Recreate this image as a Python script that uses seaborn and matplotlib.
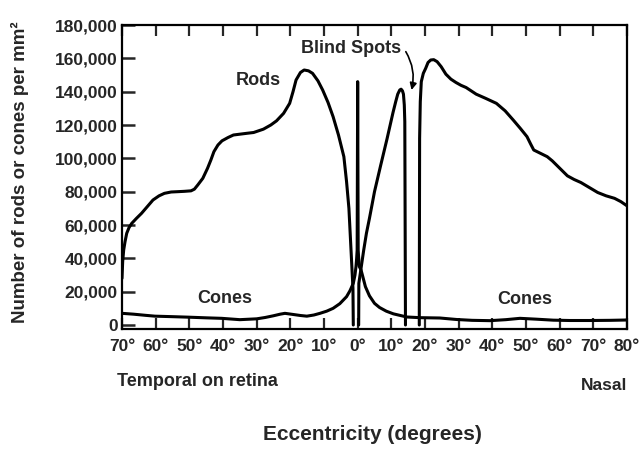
import matplotlib
matplotlib.use("Agg")
import numpy as np
import pandas as pd
import matplotlib.pyplot as plt
import seaborn as sns

# ---------- Values (signed eccentricity: temporal < 0 < nasal) ----------
# rods are drawn in three pieces: temporal side, between fovea and blind spot, nasal side
rod_ecc = [-70, -69.8, -69.5, -69.1, -68.6, -67.9, -67.1, -65.7, -64.2, -62.5,
           -60.8, -59.0, -57.4, -55.4, -53.4, -51.5, -49.5, -48.5, -47.5, -46.0,
           -44.6, -43.6, -42.7, -41.5, -40.3, -38.5, -36.9, -33.0, -30.9, -28.0,
           -25.8, -24.1, -22.0, -20.2, -19.2, -18.3, -17.0, -15.9, -14.6, -13.4,
           -11.8, -10.4, -8.8, -7.3, -5.7, -4.1, -3.3, -2.6, -1.9, -1.4,
           -1.3,
           0.3, 0.35, 1.8, 2.6, 3.5, 4.3, 5.0, 6.8, 8.7, 10.5,
           11.3, 11.9, 12.5, 12.9, 13.3, 13.6, 13.85, 14.0, 14.2,
           18.3, 18.4, 18.6, 18.9, 19.5, 20.2, 20.9, 21.7, 22.6, 23.6,
           24.8, 26.2, 27.7, 29.2, 30.7, 32.2, 33.7, 35.2, 38.0, 41.2,
           43.8, 46.2, 48.3, 50.3, 51.4, 52.3, 54.3, 56.3, 57.8, 59.3,
           60.8, 62.3, 64.3, 66.3, 68.8, 71.3, 73.8, 76.3, 78.2, 80]
rod_density = [28000, 38000, 45000, 50000, 55000, 58500, 61000, 64000, 67000, 71000,
               75000, 77500, 79000, 79800, 80000, 80200, 80500, 81500, 84000, 88000,
               94000, 99000, 104000, 108000, 110500, 112500, 114000, 115000, 115500, 117500,
               120000, 122500, 127000, 133000, 140000, 147000, 151500, 153000, 152500, 151000,
               146500, 141000, 133500, 125000, 114000, 101000, 86000, 70000, 42000, 22000,
               0,
               0, 25000, 45000, 55000, 64000, 72500, 80000, 95500, 111500, 127500,
               134000, 138500, 141000, 141500, 140500, 138500, 132000, 122000, 0,
               0, 112000, 134000, 146000, 151000, 154000, 157500, 159000, 159200, 158000,
               155000, 150500, 147500, 145500, 143800, 142500, 140500, 138500, 136000, 133000,
               128500, 123000, 118000, 113000, 108500, 105000, 103000, 101000, 98500, 95500,
               92500, 89500, 87300, 85500, 82500, 79500, 77500, 76000, 74000, 71500]
rod_piece = [0] * 51 + [1] * 19 + [2] * 40

cone_ecc = [-70, -66.6, -63.0, -60.2, -55.0, -50.3, -45.0, -40.4, -35.0, -30.0,
            -27.5, -25.1, -23.0, -21.6, -19.1, -17.0, -15.1, -13.0, -11.2, -9.2,
            -7.3, -5.3, -3.3, -2.3, -1.3, -0.8, -0.5, -0.3, -0.15, 0,
            0.15, 0.3, 0.5, 1.0, 1.4, 2.3, 3.5, 5.0, 6.5, 8.5,
            10.6, 14.6, 18.5, 24.4, 29.4, 34.0, 39.3, 44.0, 48.2, 53.0,
            58.1, 63.0, 69.0, 75.0, 80]
cone_density = [7000, 6500, 5800, 5300, 5000, 4700, 4300, 4000, 3200, 3700,
                4500, 5500, 6500, 7000, 6300, 5700, 5300, 6000, 7000, 8300,
                10000, 12800, 17000, 20500, 25000, 30000, 35000, 40000, 45000, 146000,
                45000, 40000, 35000, 33000, 30000, 23000, 17500, 13000, 10500, 8300,
                6700, 4800, 4400, 4200, 3300, 2800, 2600, 3200, 4000, 3500,
                2900, 2700, 2700, 2800, 3000]

x_ticks = list(range(-70, 81, 10))
x_tick_labels = [f"{abs(t)}°" for t in x_ticks]
y_ticks = list(range(0, 180001, 20000))
y_tick_labels = [f"{t:,}" for t in y_ticks]

rods_df = pd.DataFrame({"Eccentricity": rod_ecc, "Density": rod_density, "piece": rod_piece})
cones_df = pd.DataFrame({"Eccentricity": cone_ecc, "Density": cone_density, "piece": 0})

# ---------- Style ----------
sns.set_style("ticks")
plt.rcParams["font.family"] = ["Liberation Sans", "DejaVu Sans"]
plt.rcParams["font.weight"] = "bold"

W, H = 642, 451
fig = plt.figure(figsize=(W / 100, H / 100), dpi=100)
ax = fig.add_axes([122 / W, 1 - 329 / H, 505 / W, 304 / H])

for df in (rods_df, cones_df):
    sns.lineplot(data=df, x="Eccentricity", y="Density", units="piece", ax=ax,
                 color="black", linewidth=2.2, sort=False, estimator=None, legend=False,
                 solid_joinstyle="round", solid_capstyle="round")

ax.set_xlim(-70, 80)
ax.set_ylim(-2400, 180000)
ax.set_xticks(x_ticks)
ax.set_xticklabels(x_tick_labels, fontsize=12.5, fontweight="bold")
ax.set_yticks(y_ticks)
ax.set_yticklabels(y_tick_labels, fontsize=12.5, fontweight="bold")
ax.set_xlabel("")
ax.set_ylabel("")

ax.tick_params(axis="x", direction="in", top=True, bottom=True, length=8, width=1.6, pad=7)
ax.tick_params(axis="y", direction="in", left=True, right=False, length=9, width=1.8, pad=3)
for side in ["top", "bottom", "left", "right"]:
    ax.spines[side].set_visible(True)
    ax.spines[side].set_linewidth(1.6)
    ax.spines[side].set_color("black")

# ---------- Annotations ----------
ax.text(-29.6, 146600, "Rods", ha="center", va="center", fontsize=13, fontweight="bold")
ax.text(-1.9, 166000, "Blind Spots", ha="center", va="center", fontsize=13, fontweight="bold")
ax.text(-39.4, 16000, "Cones", ha="center", va="center", fontsize=13, fontweight="bold")
ax.text(49.6, 15100, "Cones", ha="center", va="center", fontsize=13, fontweight="bold")
ax.annotate("", xy=(16.0, 141000), xytext=(14.3, 164000),
            arrowprops=dict(arrowstyle="-|>", color="black", lw=1.2,
                            mutation_scale=10, shrinkA=0, shrinkB=0,
                            connectionstyle="arc3,rad=-0.2"))

fig.text(19.5 / W, 1 - 172 / H, "Number of rods or cones per mm²", rotation=90,
         ha="center", va="center", fontsize=13.5, fontweight="bold")
fig.text(117 / W, 1 - 381 / H, "Temporal on retina", ha="left", va="center",
         fontsize=13, fontweight="bold")
fig.text(627 / W, 1 - 385 / H, "Nasal", ha="right", va="center",
         fontsize=12.5, fontweight="bold")
fig.text(372.5 / W, 1 - 435 / H, "Eccentricity (degrees)", ha="center", va="center",
         fontsize=15, fontweight="bold")

fig.savefig("out.png", dpi=100, facecolor="white")
